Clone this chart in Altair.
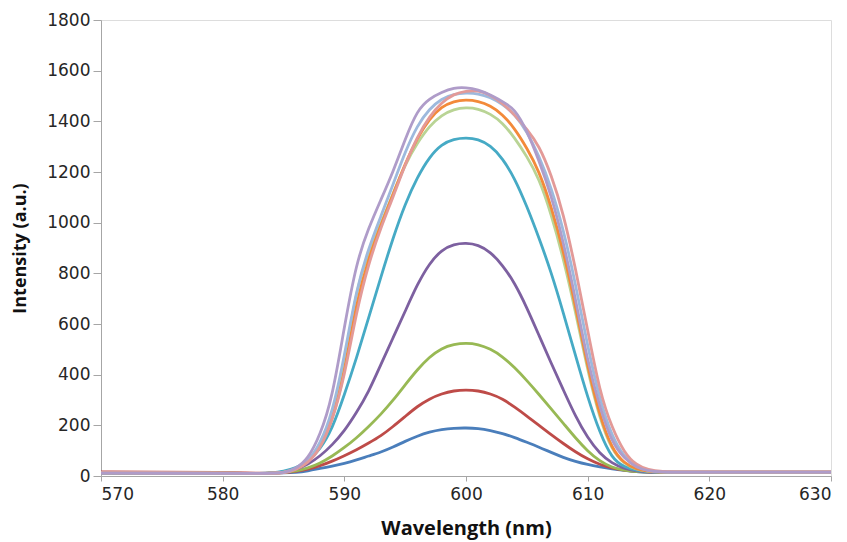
import altair as alt
import pandas as pd

wavelength = [570, 575, 580, 582, 583,
              584, 585, 586, 587, 588, 589, 590, 591, 592, 593, 594, 595, 596, 597, 598, 599,
              600, 601, 602, 603, 604, 605, 606, 607, 608, 609, 610, 611, 612, 613, 614, 615, 616,
              618, 620, 625, 630]

s1 = [12, 12, 11, 10, 10,
      11, 12, 14, 20, 30, 39, 49, 63, 79, 94, 114, 137, 158, 174, 184, 189,
      190, 188, 180, 168, 152, 133, 114, 93, 73, 57, 45, 36, 28, 22, 17, 14, 13,
      13, 13, 13, 13]
s2 = [16, 15, 14, 12, 11,
      11, 13, 17, 26, 40, 58, 80, 103, 130, 158, 195, 235, 275, 305, 325, 337,
      340, 337, 325, 305, 272, 237, 200, 163, 128, 95, 67, 45, 31, 23, 18, 16, 15,
      15, 15, 15, 15]
s3 = [12, 12, 11, 10, 10,
      11, 14, 19, 31, 50, 78, 112, 150, 195, 243, 298, 360, 420, 470, 505, 520,
      525, 520, 502, 472, 428, 377, 322, 265, 208, 150, 98, 58, 33, 22, 17, 15, 14,
      14, 14, 14, 14]
s4 = [11, 11, 10, 10, 10,
      11, 15, 25, 45, 78, 122, 177, 250, 332, 440, 545, 650, 757, 840, 893, 915,
      920, 913, 885, 833, 762, 665, 555, 445, 340, 235, 150, 88, 50, 29, 19, 15, 14,
      14, 14, 14, 14]
s5 = [12, 12, 11, 10, 10,
      12, 18, 32, 55, 105, 185, 320, 465, 625, 785, 940, 1075, 1180, 1260, 1310, 1330,
      1335, 1330, 1305, 1255, 1175, 1065, 940, 805, 645, 475, 310, 170, 68, 35, 22, 17, 15,
      15, 15, 15, 15]
s6 = [12, 12, 11, 10, 10,
      11, 14, 26, 55, 118, 240, 440, 740, 885, 995, 1115, 1230, 1315, 1382, 1425, 1448,
      1455, 1450, 1430, 1395, 1335, 1262, 1175, 1035, 860, 650, 415, 225, 100, 48, 25, 17, 15,
      15, 15, 15, 15]
s7 = [12, 12, 11, 10, 10,
      11, 13, 25, 52, 110, 215, 400, 690, 860, 990, 1110, 1235, 1335, 1410, 1458, 1480,
      1485, 1480, 1462, 1428, 1372, 1295, 1205, 1065, 890, 670, 430, 235, 105, 50, 26, 18, 15,
      15, 15, 15, 15]
s8 = [12, 12, 11, 10, 10,
      11, 12, 25, 56, 125, 245, 470, 740, 900, 1025, 1150, 1280, 1385, 1450, 1490, 1508,
      1512, 1510, 1495, 1468, 1428, 1360, 1265, 1140, 975, 760, 510, 300, 155, 75, 35, 21, 16,
      15, 15, 15, 15]
s9 = [13, 13, 12, 11, 10,
      11, 12, 24, 50, 105, 215, 390, 650, 840, 980, 1100, 1230, 1340, 1420, 1475, 1508,
      1520, 1522, 1505, 1472, 1425, 1370, 1305, 1190, 1038, 820, 575, 330, 190, 92, 42, 24, 17,
      16, 16, 16, 16]
s10 = [11, 11, 10, 10, 10,
       11, 12, 28, 66, 160, 305, 590, 845, 980, 1090, 1200, 1330, 1445, 1490, 1515, 1533,
       1534, 1525, 1505, 1478, 1450, 1365, 1245, 1110, 925, 700, 450, 270, 130, 70, 32, 20, 16,
       15, 15, 15, 15]

series = [s1, s2, s3, s4, s5, s6, s7, s8, s9, s10]
names = ["S01", "S02", "S03", "S04", "S05", "S06", "S07", "S08", "S09", "S10"]
colors = ["#4A7EBB", "#BE4B48", "#98B954", "#7D60A0", "#46AAC5",
          "#B9D495", "#F38A3A", "#9DB9DD", "#E39A98", "#AF9CC9"]

rows = []
for n, vals in zip(names, series):
    for w, v in zip(wavelength, vals):
        rows.append({"wl": w, "val": v, "series": n})
df = pd.DataFrame(rows)

axis_common = dict(
    domainColor="#A6A6A6", tickColor="#A6A6A6", grid=False,
    labelFont="DejaVu Sans", labelFontSize=17, labelColor="#262626",
    titleFont="Open Sans", titleFontWeight="bold", titleColor="#111111",
)

chart = alt.Chart(df).mark_line(strokeWidth=2.8, interpolate="basis").encode(
    x=alt.X("wl:Q", scale=alt.Scale(domain=[570, 630], nice=False),
            axis=alt.Axis(values=[570, 580, 590, 600, 610, 620, 630], tickSize=5,
                          labelPadding=5, format="d", title="Wavelength (nm)", titleFontSize=20,
                          titleX=365, titleY=52, titleBaseline="middle",
                          **axis_common)),
    y=alt.Y("val:Q", scale=alt.Scale(domain=[0, 1800], nice=False),
            axis=alt.Axis(values=list(range(0, 1801, 200)), tickSize=8, format="d",
                          labelPadding=3, title="Intensity (a.u.)", titleFontSize=18,
                          titleX=-81, titleY=228, titleBaseline="middle",
                          **axis_common)),
    color=alt.Color("series:N", scale=alt.Scale(domain=names, range=colors), legend=None),
    order=alt.Order("series:N"),
).properties(
    width=730, height=456,
    autosize=alt.AutoSizeParams(type="none"),
    padding={"left": 101, "top": 20, "right": 16, "bottom": 66},
).configure_view(stroke=None).configure(background="white")

chart.save("out.html", embed_options={"renderer": "svg", "actions": False})
